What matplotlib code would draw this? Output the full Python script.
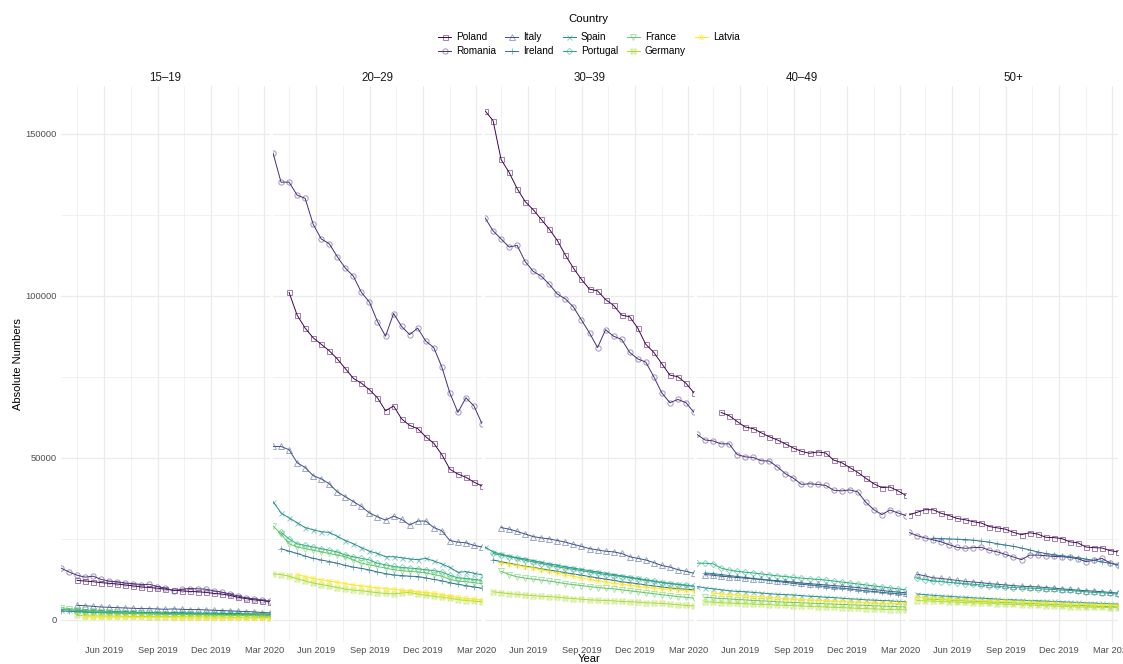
import matplotlib
matplotlib.use("Agg")
import matplotlib.pyplot as plt
import matplotlib.dates as mdates
import matplotlib.ticker as mticker
from matplotlib.colors import to_rgba
from matplotlib.lines import Line2D
from matplotlib.path import Path
import numpy as np
import pandas as pd

plt.rcParams["font.family"] = ["Liberation Sans", "DejaVu Sans"]

NA = np.nan

# ── Data ──────────────────────────────────────────────────────────────────────
# one reading roughly every two weeks, Mar 2019 to Mar 2020
DATES = pd.date_range("2019-03-19", "2020-03-11", periods=27)

COUNTRIES = ["Poland", "Romania", "Italy", "Ireland", "Spain",
             "Portugal", "France", "Germany", "Latvia"]
AGE_GROUPS = ["15\u201319", "20\u201329", "30\u201339", "40\u201349", "50+"]

# 15-19
POLAND_15_19 = [NA, NA, 12200, 12000, 11800, 11500, 11300, 11100, 10800, 10500,
                10200, 10000, 9800, 9500, 9200, 9000, 8800, 8700, 8500, 8200,
                8000, 7600, 7000, 6600, 6200, 6000, 5600]
ROMANIA_15_19 = [16000, 14800, 13800, 13200, 13500, 12500, 12000, 11800, 11400, 11200,
                 10900, 11000, 10300, 9800, 9000, 9500, 9700, 9600, 9500, 9000,
                 8600, 8000, 7400, 6800, 6500, 6100, 5800]
ITALY_15_19 = [NA, NA, 4500, 4400, 4200, 4000, 3900, 3800, 3700, 3600,
               3500, 3500, 3400, 3300, 3400, 3300, 3200, 3200, 3100, 3000,
               2900, 2800, 2700, 2600, 2500, 2300, 2200]
IRELAND_15_19 = [2800, 2700, 2600, 2500, 2400, 2400, 2300, 2300, 2200, 2200,
                 2100, 2100, 2000, 2000, 1900, 1900, 1900, 1800, 1800, 1800,
                 1700, 1700, 1600, 1600, 1600, 1500, 1500]
SPAIN_15_19 = [3200, 3100, 3000, 2900, 2800, 2700, 2600, 2600, 2500, 2400,
               2300, 2300, 2200, 2200, 2300, 2200, 2200, 2100, 2100, 2100,
               2000, 2000, 2000, 1900, 1900, 1900, 1800]
PORTUGAL_15_19 = [NA, NA, 2600, 2500, 2400, 2300, 2200, 2200, 2100, 2000,
                  2000, 1900, 1900, 1800, 1900, 2000, 1900, 1900, 1800, 1800,
                  1800, 1700, 1700, 1700, 1600, 1600, 1600]
FRANCE_15_19 = [3800, 3500, 3200, 3000, 2800, 2600, 2500, 2400, 2300, 2200,
                2100, 2000, 1900, 1800, 1800, 1700, 1700, 1600, 1600, 1500,
                1500, 1400, 1400, 1300, 1300, 1200, 1200]
GERMANY_15_19 = [NA, NA, 1400, 1300, 1300, 1200, 1200, 1200, 1100, 1100,
                 1100, 1000, 1000, 1000, 1000, 1000, 900, 900, 900, 900,
                 900, 800, 800, 800, 800, 800, 700]
LATVIA_15_19 = [NA, NA, NA, 1000, 1000, 900, 900, 900, 900, 800,
                800, 800, 800, 800, 700, 700, 700, 700, 700, 600,
                600, 600, 600, 600, 600, 500, 500]

# 20-29
POLAND_20_29 = [NA, NA, 101000, 94000, 90000, 87000, 85000, 83000, 80500, 77500,
                74500, 73000, 71000, 68500, 64500, 66000, 62000, 60000, 59000, 56500,
                54500, 51000, 46500, 45000, 44000, 42500, 41300]
ROMANIA_20_29 = [144000, 135000, 135000, 131000, 130000, 122000, 117500, 116000, 112000, 108500,
                 106000, 101000, 98000, 92000, 87500, 94500, 90500, 88000, 90000, 86000,
                 84000, 78000, 70000, 64000, 68500, 66000, 60500]
ITALY_20_29 = [53500, 53500, 52500, 48500, 47000, 44500, 43500, 42000, 39500, 38000,
               36500, 35000, 33000, 31800, 30800, 32000, 31000, 29300, 30500, 30500,
               28500, 27500, 24500, 24000, 23800, 23000, 22500]
IRELAND_20_29 = [NA, 22000, 21200, 20500, 19700, 19000, 18500, 18000, 17500, 16800,
                 16300, 15900, 15400, 14800, 14300, 13900, 13700, 13500, 13400, 13000,
                 12500, 12100, 11500, 11000, 10600, 10200, 9800]
SPAIN_20_29 = [36500, 33000, 31500, 30000, 28500, 27800, 27200, 27000, 25800, 24500,
               23500, 22300, 21200, 20500, 19500, 19500, 19200, 18800, 18600, 19000,
               18200, 17300, 16200, 14700, 14900, 14400, 13900]
PORTUGAL_20_29 = [NA, 27000, 25000, 23500, 23000, 22500, 22000, 21500, 21000, 20000,
                  19500, 19000, 18500, 17500, 17000, 16500, 16200, 16000, 15800, 15500,
                  15200, 14800, 13800, 13000, 12800, 12500, 12200]
FRANCE_20_29 = [29000, 26500, 23500, 22500, 22000, 21500, 21000, 20500, 20000, 19500,
                18500, 17500, 17000, 16500, 16000, 15500, 15200, 15000, 14800, 14500,
                14000, 13500, 12500, 12000, 11800, 11500, 11200]
GERMANY_20_29 = [14200, 14000, 13500, 12700, 12000, 11400, 10900, 10500, 10000, 9500,
                 9200, 9000, 8700, 8400, 8200, 8000, 8300, 8500, 8000, 7600,
                 7300, 7000, 6700, 6300, 6000, 5800, 5600]
LATVIA_20_29 = [NA, NA, NA, 14000, 13400, 12800, 12400, 12000, 11600, 11200,
                10800, 10500, 10200, 9900, 9700, 9500, 9200, 8900, 8700, 8500,
                8200, 7800, 7400, 7000, 6700, 6400, 6200]

# 30-39
POLAND_30_39 = [157000, 154000, 142000, 138000, 133000, 129000, 126500, 123500, 120500, 117000,
                112500, 108500, 105000, 102000, 101500, 98800, 97000, 94000, 93500, 90000,
                85000, 82500, 79000, 75500, 75000, 73000, 70000]
ROMANIA_30_39 = [124000, 120000, 117500, 115000, 115500, 110500, 107500, 106000, 103500, 100500,
                 99000, 96500, 92500, 88500, 84000, 89500, 87500, 86500, 82500, 80500,
                 79500, 75000, 70000, 67000, 68000, 67000, 64000]
ITALY_30_39 = [NA, NA, 28500, 28000, 27300, 26500, 25700, 25300, 25000, 24500,
               24000, 23300, 22700, 22000, 21600, 21200, 21000, 20500, 19500, 19000,
               18500, 17700, 16800, 16300, 15500, 15000, 14400]
IRELAND_30_39 = [NA, 18500, 18000, 17500, 17000, 16600, 16200, 15800, 15400, 15000,
                 14600, 14200, 13800, 13400, 13000, 12600, 12200, 11800, 11500, 11200,
                 10800, 10500, 10200, 9900, 9700, 9500, 9300]
SPAIN_30_39 = [22500, 21000, 20300, 19700, 19200, 18800, 18300, 17800, 17300, 16900,
               16400, 16000, 15600, 15200, 14800, 14400, 14000, 13600, 13200, 12800,
               12400, 12000, 11600, 11300, 11000, 10700, 10400]
PORTUGAL_30_39 = [NA, 20500, 20000, 19500, 19000, 18400, 17900, 17400, 16900, 16400,
                  16000, 15600, 15200, 14800, 14400, 14000, 13700, 13400, 13000, 12600,
                  12200, 11900, 11500, 11200, 10900, 10700, 10400]
FRANCE_30_39 = [NA, NA, 15000, 14000, 13300, 12900, 12600, 12300, 12000, 11600,
                11200, 10900, 10600, 10300, 10000, 9800, 9600, 9300, 9000, 8700,
                8400, 8100, 7800, 7500, 7200, 7000, 6700]
GERMANY_30_39 = [NA, 8700, 8400, 8100, 7900, 7700, 7500, 7300, 7200, 7000,
                 6800, 6600, 6400, 6200, 6100, 6000, 5900, 5700, 5600, 5500,
                 5300, 5200, 5100, 4900, 4700, 4500, 4300]
LATVIA_30_39 = [NA, NA, 17500, 17200, 16800, 16400, 16000, 15500, 15000, 14500,
                14000, 13500, 13000, 12500, 12100, 11700, 11300, 11000, 10700, 10400,
                10100, 9900, 9700, 9500, 9300, 9100, 9000]

# 40-49
POLAND_40_49 = [NA, NA, NA, 64000, 63000, 61200, 59500, 59000, 57700, 56500,
                55500, 54300, 53000, 52000, 51400, 51800, 51500, 49300, 48500, 47000,
                45500, 43700, 42000, 40800, 41000, 39800, 38400]
ROMANIA_40_49 = [57200, 55500, 55200, 54300, 54300, 51000, 50300, 50100, 49100, 49000,
                 47200, 45100, 43700, 41800, 42000, 41800, 41500, 40000, 39800, 40100,
                 39500, 36300, 34000, 32500, 33900, 33000, 32200]
ITALY_40_49 = [NA, 14000, 13800, 13500, 13300, 13100, 12900, 12700, 12500, 12300,
               12100, 11900, 11700, 11400, 11200, 11000, 10800, 10600, 10400, 10200,
               10000, 9700, 9400, 9100, 8800, 8600, 8400]
IRELAND_40_49 = [NA, 14500, 14300, 14000, 13700, 13400, 13100, 12800, 12500, 12200,
                 11900, 11600, 11300, 11000, 10800, 10600, 10300, 10000, 9800, 9600,
                 9300, 9000, 8800, 8500, 8300, 8100, 7900]
SPAIN_40_49 = [10300, 9900, 9600, 9300, 9000, 8800, 8700, 8500, 8300, 8100,
               7900, 7800, 7700, 7500, 7300, 7200, 7000, 6900, 6700, 6500,
               6400, 6200, 6100, 6000, 5900, 5700, 5600]
PORTUGAL_40_49 = [17500, 17500, 17300, 16000, 15400, 15000, 14700, 14500, 14200, 13900,
                  13600, 13400, 13100, 12900, 12700, 12500, 12300, 12000, 11700, 11400,
                  11100, 10800, 10500, 10200, 9900, 9600, 9300]
FRANCE_40_49 = [NA, 7000, 6800, 6600, 6500, 6300, 6200, 6000, 5900, 5800,
                5600, 5500, 5400, 5300, 5200, 5100, 5000, 4900, 4800, 4700,
                4600, 4500, 4400, 4300, 4200, 4100, 4000]
GERMANY_40_49 = [NA, 5600, 5500, 5300, 5200, 5100, 5000, 4900, 4800, 4700,
                 4600, 4500, 4400, 4300, 4200, 4100, 4000, 3900, 3800, 3700,
                 3600, 3500, 3400, 3300, 3200, 3200, 3100]
LATVIA_40_49 = [NA, NA, 8200, 8000, 7800, 7600, 7400, 7200, 7100, 6900,
                6800, 6600, 6500, 6300, 6200, 6100, 6000, 5800, 5700, 5600,
                5500, 5400, 5300, 5200, 5100, 5100, 5000]

# 50+
POLAND_50 = [32400, 33200, 34000, 34000, 32900, 32200, 31300, 30900, 30300, 29900,
             28800, 28400, 28000, 27000, 26300, 26900, 26500, 25500, 25400, 25100,
             24100, 23800, 22500, 22300, 22200, 21400, 21000]
ROMANIA_50 = [27000, 26000, 25300, 24700, 24100, 23200, 22400, 22100, 22300, 22400,
              21500, 21000, 20200, 19400, 18600, 20000, 20000, 19800, 19600, 19500,
              19300, 18900, 18000, 18400, 19000, 17600, 17000]
ITALY_50 = [NA, 14100, 13600, 13000, 12800, 12500, 12200, 11900, 11700, 11500,
            11200, 11000, 10800, 10600, 10400, 10300, 10200, 10000, 9800, 9600,
            9400, 9200, 9000, 8900, 8700, 8500, 8300]
IRELAND_50 = [NA, NA, NA, 25200, 25100, 25000, 24900, 24800, 24600, 24300,
              24000, 23500, 23100, 22700, 22200, 21600, 21000, 20500, 20100, 19800,
              19500, 19200, 18800, 18400, 17900, 17500, 17000]
SPAIN_50 = [NA, 8000, 7800, 7600, 7400, 7300, 7100, 7000, 6800, 6700,
            6600, 6400, 6300, 6200, 6100, 6000, 5900, 5800, 5700, 5600,
            5500, 5400, 5300, 5200, 5100, 5000, 4900]
PORTUGAL_50 = [NA, 12800, 12400, 12100, 11800, 11600, 11400, 11200, 11000, 10800,
               10600, 10400, 10200, 10000, 9900, 9800, 9700, 9500, 9400, 9200,
               9100, 8900, 8700, 8500, 8400, 8200, 8000]
FRANCE_50 = [NA, NA, 6500, 6400, 6300, 6200, 6000, 5900, 5800, 5700,
             5600, 5500, 5400, 5300, 5200, 5100, 5000, 4900, 4800, 4700,
             4600, 4500, 4400, 4300, 4200, 4100, 4000]
GERMANY_50 = [NA, 6000, 5900, 5800, 5700, 5600, 5500, 5400, 5300, 5200,
              5100, 5000, 4900, 4800, 4700, 4600, 4500, 4400, 4300, 4200,
              4100, 4000, 4000, 3900, 3900, 3800, 3800]
LATVIA_50 = [NA, 7000, 6800, 6700, 6500, 6400, 6300, 6200, 6100, 6000,
             5900, 5800, 5700, 5600, 5500, 5400, 5300, 5200, 5100, 5000,
             4900, 4800, 4800, 4700, 4600, 4600, 4500]

SERIES = {
    "15\u201319": [POLAND_15_19, ROMANIA_15_19, ITALY_15_19, IRELAND_15_19, SPAIN_15_19,
                   PORTUGAL_15_19, FRANCE_15_19, GERMANY_15_19, LATVIA_15_19],
    "20\u201329": [POLAND_20_29, ROMANIA_20_29, ITALY_20_29, IRELAND_20_29, SPAIN_20_29,
                   PORTUGAL_20_29, FRANCE_20_29, GERMANY_20_29, LATVIA_20_29],
    "30\u201339": [POLAND_30_39, ROMANIA_30_39, ITALY_30_39, IRELAND_30_39, SPAIN_30_39,
                   PORTUGAL_30_39, FRANCE_30_39, GERMANY_30_39, LATVIA_30_39],
    "40\u201349": [POLAND_40_49, ROMANIA_40_49, ITALY_40_49, IRELAND_40_49, SPAIN_40_49,
                   PORTUGAL_40_49, FRANCE_40_49, GERMANY_40_49, LATVIA_40_49],
    "50+": [POLAND_50, ROMANIA_50, ITALY_50, IRELAND_50, SPAIN_50,
            PORTUGAL_50, FRANCE_50, GERMANY_50, LATVIA_50],
}

# ── Styling ───────────────────────────────────────────────────────────────────
COLORS = ["#440154", "#472D7B", "#3B528B", "#2C728E", "#21908C",
          "#27AD81", "#5DC863", "#AADC32", "#FDE725"]

# square with an x through it (R shape 7)
BOXED_X = Path(
    [(-1, -1), (1, -1), (1, 1), (-1, 1), (-1, -1),
     (-1, -1), (1, 1), (-1, 1), (1, -1)],
    [Path.MOVETO, Path.LINETO, Path.LINETO, Path.LINETO, Path.CLOSEPOLY,
     Path.MOVETO, Path.LINETO, Path.MOVETO, Path.LINETO],
)
MARKERS = ["s", "o", "^", "+", "x", "D", "v", BOXED_X, (8, 2, 0)]
MARKER_SIZES = [3.6, 3.8, 4.0, 4.2, 3.6, 3.2, 4.0, 3.6, 4.2]

GRID = "#EBEBEB"
AXIS_TEXT = "#4D4D4D"

W, H = 1123, 664
PANEL_LEFTS = [61, 273, 485, 697, 909]
PANEL_W = 209
PANEL_TOP, PANEL_BOTTOM = 86, 641.7

fig = plt.figure(figsize=(W / 100, H / 100), dpi=100)

x0, x1 = DATES[0], DATES[-1]
majors = [pd.Timestamp(d) for d in ["2019-03-01", "2019-06-01", "2019-09-01",
                                     "2019-12-01", "2020-03-01"]]
minors = [a + (b - a) / 2 for a, b in zip(majors[:-1], majors[1:])]

for i, age in enumerate(AGE_GROUPS):
    left = PANEL_LEFTS[i]
    ax = fig.add_axes([left / W, 1 - PANEL_BOTTOM / H,
                       PANEL_W / W, (PANEL_BOTTOM - PANEL_TOP) / H])

    for vals, color, marker, ms in zip(SERIES[age], COLORS, MARKERS, MARKER_SIZES):
        ax.plot(DATES, vals, color=color, lw=0.7, marker=marker, ms=ms,
                mfc="none", mec=to_rgba(color, 0.5), mew=0.7, zorder=3)

    ax.set_xlim(x0, x1)
    ax.set_ylim(-6700, 164650)

    ax.xaxis.set_major_locator(mticker.FixedLocator(mdates.date2num(majors)))
    ax.xaxis.set_minor_locator(mticker.FixedLocator(mdates.date2num(minors)))
    ax.xaxis.set_major_formatter(mdates.DateFormatter("%b %Y"))
    ax.yaxis.set_major_locator(mticker.FixedLocator([0, 50000, 100000, 150000]))
    ax.yaxis.set_minor_locator(mticker.FixedLocator([25000, 75000, 125000]))
    ax.yaxis.set_major_formatter(mticker.FuncFormatter(lambda v, p: f"{int(v)}"))

    ax.grid(which="major", color=GRID, lw=0.9)
    ax.grid(which="minor", color=GRID, lw=0.45)
    ax.set_axisbelow(True)
    for s in ax.spines.values():
        s.set_visible(False)
    ax.tick_params(which="both", length=0, labelsize=6.7, labelcolor=AXIS_TEXT, pad=3)
    if i > 0:
        ax.tick_params(axis="y", labelleft=False)

    # facet strip label
    ax.text(0.5, 1 + 8 / (PANEL_BOTTOM - PANEL_TOP), age, transform=ax.transAxes,
            ha="center", va="center", fontsize=8.3, color="#1A1A1A")

fig.text(589.5 / W, 1 - 659 / H, "Year", ha="center", va="center", fontsize=8)
fig.text(18 / W, 1 - 364 / H, "Absolute Numbers", ha="center", va="center",
         rotation=90, fontsize=8)

# legend: title drawn on its own, keys in a 2 x 5 grid below it
fig.text(588 / W, 1 - 18.5 / H, "Country", ha="center", va="center", fontsize=8.2)
handles = [
    Line2D([], [], color=c, lw=0.7, marker=m, ms=ms, mfc="none",
           mec=to_rgba(c, 0.5), mew=0.7)
    for c, m, ms in zip(COLORS, MARKERS, MARKER_SIZES)
]
fig.legend(handles, COUNTRIES, loc="upper center",
           bbox_to_anchor=(589 / W, 1 - 32 / H), ncol=5, frameon=False,
           fontsize=7.2, handlelength=1.3, handletextpad=0.5, columnspacing=0.9,
           labelspacing=0.4, borderpad=0.0, borderaxespad=0.0)

fig.savefig("out.png", dpi=100)
